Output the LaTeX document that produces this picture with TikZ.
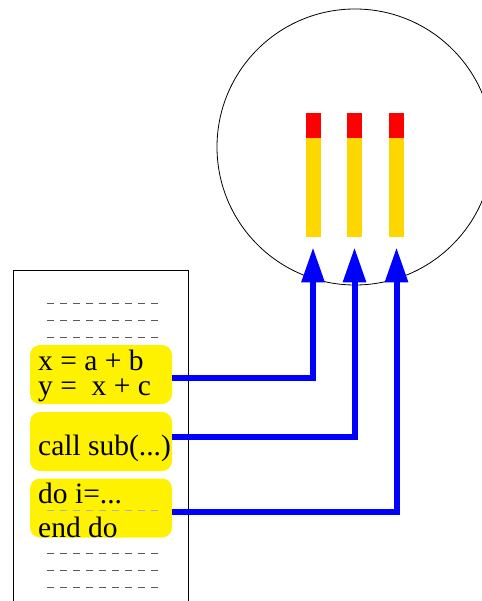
\documentclass[tikz,border=0pt]{standalone}
\usepackage{fontspec}
\setmainfont{Liberation Serif}
\usetikzlibrary{arrows.meta}
\definecolor{gold}{HTML}{FFD700}

\begin{document}
\begin{tikzpicture}[x=1pt,y=-1pt, >={Triangle[length=35pt,width=22pt]},
  codebox/.style={fill=yellow,rounded corners=10pt,minimum width=142pt,minimum height=59pt,inner sep=0pt},
  code/.style={anchor=base west,inner sep=0pt,font=\fontsize{29.5}{24}\selectfont},
  bar/.style={fill=gold,minimum width=15pt,minimum height=99pt,inner sep=0pt,anchor=north},
  bartop/.style={fill=red,minimum width=15pt,minimum height=25pt,inner sep=0pt,anchor=south},
  dashrow/.style={black!65,dash pattern=on 7pt off 6pt,line width=1pt},
  link/.style={draw=blue,line width=6pt,->}]
\useasboundingbox (0,0) rectangle (481,601);
% processor
\draw[line width=0.8pt] (355,147) circle (138);
\foreach \i/\x in {1/313,2/354.5,3/396.5} {
  \node[bar] (bar\i) at (\x,138) {};
  \node[bartop] (top\i) at (bar\i.north) {};
}
% program listing
\draw[line width=0.8pt] (13,605) -- (13,270) -- (188,270) -- (188,605);
\foreach \y in {303,320,337,553,570,587}
  \draw[dashrow] (47,\y) -- (162,\y);
\node[codebox] (assign) at (101,374.5) {};
\node[codebox] (call) at (101,441.5) {};
\node[codebox] (loop) at (101,508) {};
\draw[dashrow,black!30] (47,510) -- (162,510);
\node[code] (xline) at (38,370.5) {x = a + b};
\node[code] (yline) at (38,395) {y =\ \ x + c};
\node[code] (callline) at (38,455) {call sub(...)};
\node[code] (doline) at (38,503) {do i=...};
\node[code] (endline) at (38,537) {end do};
% mapping onto the processors
\draw[link] ([yshift=-3.5pt]assign.east) -| ([yshift=-10pt]bar1.south);
\draw[link] ([yshift=4.5pt]call.east) -| ([yshift=-10pt]bar2.south);
\draw[link] ([yshift=-4pt]loop.east) -| ([yshift=-10pt]bar3.south);
\end{tikzpicture}
\end{document}
